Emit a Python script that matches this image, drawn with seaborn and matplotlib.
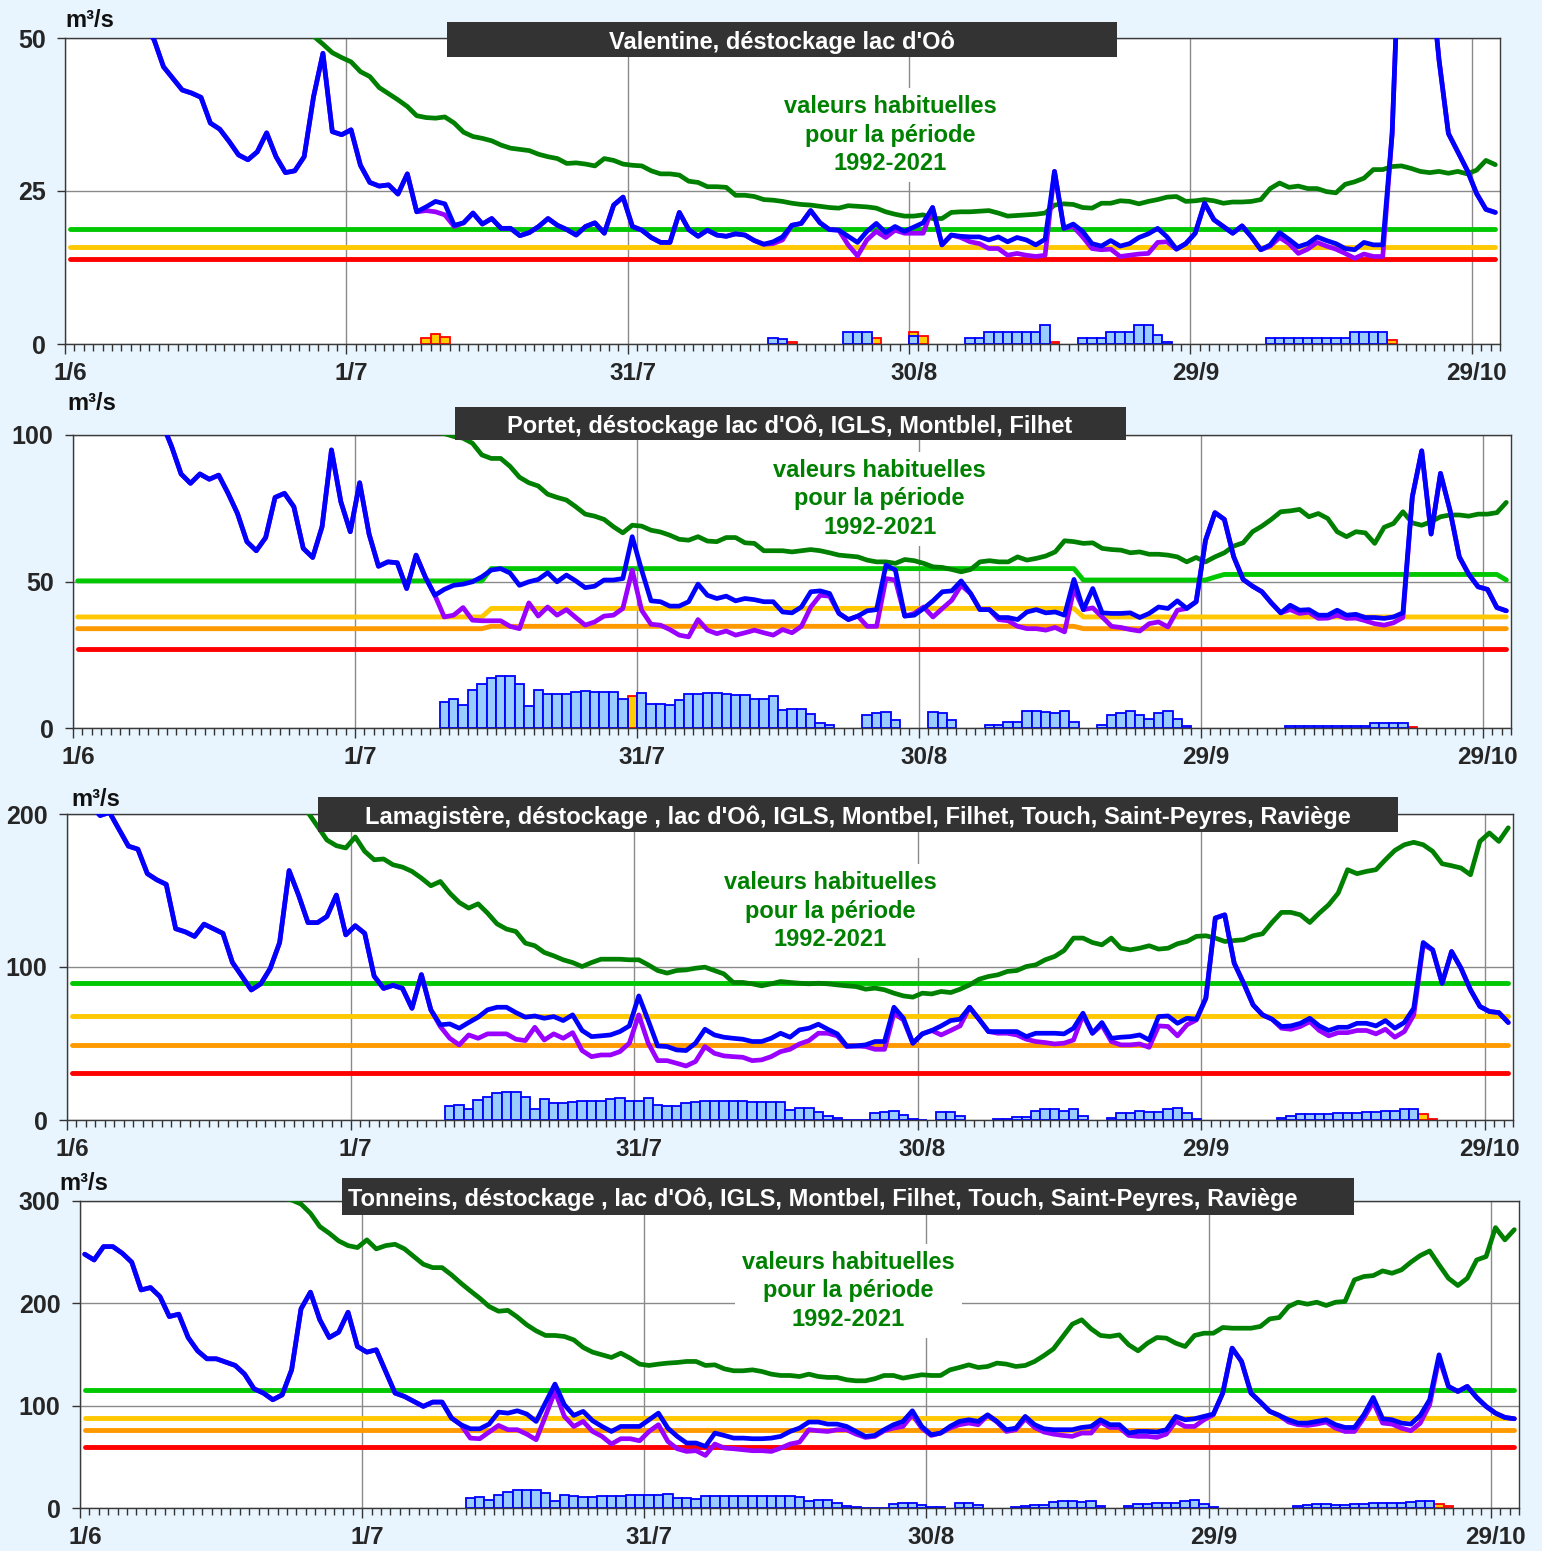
import numpy as np
import matplotlib
matplotlib.use("Agg")
import matplotlib.pyplot as plt
import matplotlib.transforms as mtransforms
import seaborn as sns
from matplotlib.patches import Rectangle
from matplotlib.ticker import FixedLocator, MultipleLocator

# ------------------------------------------------------------------ #
# Data (daily values, 1/6 -> 31/10, index 0 = 1 June)
# ------------------------------------------------------------------ #
tick_days = [0, 30, 60, 90, 120, 150]
tick_labels = ["1/6", "1/7", "31/7", "30/8", "29/9", "29/10"]

# --- Valentine -----------------------------------------------------
p1_blue = [78, 74, 70, 66, 63, 60, 57, 55, 52, 49.7,
           45.3, 43.4, 41.5, 41.0, 40.3, 36.1, 35.1, 33.1, 30.9, 30.1,
           31.4, 34.5, 30.6, 28.0, 28.3, 30.6, 40.4, 47.5, 34.7, 34.2,
           35.0, 29.2, 26.4, 25.8, 26.0, 24.5, 27.8, 21.6, 22.4, 23.3,
           22.9, 19.4, 19.8, 21.4, 19.6, 20.5, 18.9, 18.9, 17.7, 18.2,
           19.2, 20.5, 19.4, 18.7, 17.8, 19.2, 19.8, 18.1, 22.7, 24.0,
           19.2, 18.6, 17.4, 16.6, 16.6, 21.5, 18.7, 17.6, 18.6, 17.8,
           17.6, 18.0, 17.8, 16.9, 16.3, 16.7, 17.5, 19.4, 19.7, 21.8,
           19.8, 18.7, 18.6, 17.6, 16.6, 18.4, 19.7, 18.2, 19.2, 18.4,
           19.1, 19.8, 22.3, 16.2, 17.8, 17.6, 17.5, 17.5, 17.0, 17.5,
           16.7, 17.4, 17.0, 16.2, 17.1, 28.2, 18.9, 19.6, 18.4, 16.4,
           16.0, 16.9, 16.0, 16.4, 17.4, 18.0, 18.9, 17.5, 15.5, 16.4,
           18.1, 23.0, 20.3, 19.2, 18.1, 19.3, 17.5, 15.4, 16.2, 18.2,
           17.1, 15.9, 16.4, 17.5, 16.9, 16.4, 15.6, 15.4, 16.6, 16.2,
           16.2, 34.4, 75, 90, 82, 62, 46.4, 34.4, 31.4, 28.4,
           24.6, 22.0, 21.5]
p1_purple = [78, 74, 70, 66, 63, 60, 57, 55, 52, 49.7,
             45.3, 43.4, 41.5, 41.0, 40.3, 36.1, 35.1, 33.1, 30.9, 30.1,
             31.4, 34.5, 30.6, 28.0, 28.3, 30.6, 40.4, 47.5, 34.7, 34.2,
             35.0, 29.2, 26.4, 25.8, 26.0, 24.5, 27.8, 21.6, 21.8, 21.6,
             21.1, 19.2, 19.8, 21.4, 19.6, 20.5, 18.9, 18.9, 17.7, 18.2,
             19.2, 20.5, 19.4, 18.7, 17.8, 19.2, 19.8, 18.1, 22.7, 24.0,
             19.2, 18.6, 17.4, 16.6, 16.6, 21.5, 18.7, 17.6, 18.6, 17.8,
             17.6, 18.0, 17.8, 16.9, 16.3, 16.4, 17.0, 19.4, 19.7, 21.8,
             19.8, 18.7, 18.6, 16.2, 14.4, 17.0, 18.4, 17.4, 18.6, 18.1,
             18.1, 18.1, 22.3, 16.2, 17.8, 17.4, 16.7, 16.4, 15.6, 15.6,
             14.5, 14.8, 14.5, 14.3, 14.5, 28.2, 18.9, 19.2, 17.5, 15.6,
             15.4, 15.5, 14.3, 14.5, 14.7, 14.8, 16.6, 16.7, 15.5, 16.4,
             18.1, 23.0, 20.3, 19.2, 18.1, 19.3, 17.5, 15.4, 16.0, 17.4,
             16.4, 14.8, 15.5, 16.6, 16.0, 15.5, 14.8, 14.0, 14.7, 14.3,
             14.3, 34.4, 75, 90, 82, 62, 46.4, 34.4, 31.4, 28.4,
             24.6, 22.0, 21.5]
p1_usual = [66, 65, 64, 63, 62, 61, 60, 59, 58.5, 58,
            57.5, 57, 56.5, 56, 55.5, 55, 54.5, 54, 53.5, 53,
            52.7, 52.3, 52, 51.6, 51.2, 50.8, 50.3, 49.0, 47.6, 46.8,
            46.1, 44.5, 43.7, 41.9, 40.9, 39.9, 38.8, 37.3, 37.0, 36.9,
            37.1, 36.1, 34.6, 33.9, 33.6, 33.2, 32.5, 32.0, 31.8, 31.6,
            31.0, 30.6, 30.3, 29.5, 29.6, 29.4, 29.1, 30.3, 30.0, 29.4,
            29.2, 29.1, 28.3, 27.8, 27.8, 27.6, 26.6, 26.4, 25.7, 25.7,
            25.6, 24.3, 24.3, 24.1, 23.6, 23.5, 23.3, 23.0, 22.8, 22.7,
            22.5, 22.3, 22.2, 22.6, 22.5, 22.4, 22.2, 21.6, 21.2, 20.9,
            20.9, 21.1, 20.5, 20.5, 21.5, 21.6, 21.6, 21.7, 21.8, 21.4,
            20.9, 21.0, 21.1, 21.2, 21.4, 22.7, 22.9, 22.8, 22.3, 22.2,
            23.0, 23.0, 23.4, 23.3, 22.9, 23.3, 23.6, 24.0, 24.1, 23.3,
            23.4, 23.6, 23.4, 23.0, 23.2, 23.2, 23.3, 23.6, 25.4, 26.3,
            25.6, 25.8, 25.4, 25.4, 24.9, 24.7, 26.1, 26.5, 27.1, 28.5,
            28.5, 29.0, 29.1, 28.7, 28.2, 28.0, 28.2, 27.9, 28.2, 27.8,
            28.4, 30.0, 29.3]
p1_green_steps = [(18.8, 153)]
p1_yellow_steps = [(15.9, 153)]
p1_orange_steps = []
p1_red_steps = [(13.9, 153)]
p1_bar_start = 75
p1_bar_blue = [0.9, 0.8, 0, 0, 0, 0, 0, 0, 2.0, 2.0,
               2.0, 0, 0, 0, 0, 1.3, 0, 0, 0, 0,
               0, 0.9, 0.9, 2.0, 2.0, 2.0, 2.0, 2.0, 2.0, 3.1,
               0, 0, 0, 0.9, 0.9, 0.9, 2.0, 2.0, 2.0, 3.1,
               3.1, 1.5, 0.4, 0, 0, 0, 0, 0, 0, 0,
               0, 0, 0, 0.9, 0.9, 0.9, 0.9, 0.9, 0.9, 0.9,
               0.9, 0.9, 2.0, 2.0, 2.0, 2.0]
p1_bar_yel_days = [38, 39, 40, 77, 86, 90, 91, 105, 141]
p1_bar_yel = [0.9, 1.7, 1.1, 0.4, 0.9, 1.9, 1.3, 0.4, 0.7]

# --- Portet --------------------------------------------------------
p2_blue = [150, 145, 140, 135, 130, 125, 120, 115, 110, 104,
           96, 86.7, 83.5, 86.7, 84.9, 86.3, 80.1, 73.2, 63.6, 60.5,
           65.0, 78.7, 80.1, 75.5, 61.3, 58.2, 68.7, 94.9, 77.2, 67.0,
           83.7, 66.2, 55.2, 56.7, 56.4, 47.6, 59.0, 51.4, 45.3, 47.3,
           48.7, 49.1, 49.9, 51.6, 53.9, 54.4, 52.9, 48.7, 49.9, 50.7,
           53.0, 49.9, 52.2, 50.2, 47.9, 48.4, 50.5, 50.5, 51.0, 65.3,
           53.9, 43.4, 43.1, 41.6, 41.6, 43.1, 49.1, 45.3, 44.2, 45.0,
           43.4, 44.2, 43.8, 43.1, 43.1, 39.6, 39.3, 41.3, 46.5, 46.8,
           45.9, 39.1, 37.0, 38.2, 40.0, 40.4, 55.6, 53.9, 38.2, 38.5,
           40.8, 43.4, 46.5, 46.8, 50.2, 45.9, 40.4, 40.4, 37.7, 37.7,
           37.0, 39.6, 40.4, 39.3, 39.6, 38.5, 50.7, 40.4, 47.6, 39.3,
           39.1, 39.1, 39.3, 37.7, 39.1, 41.3, 40.8, 43.4, 40.8, 43.1,
           64.1, 73.5, 71.2, 58.4, 50.7, 48.4, 46.5, 42.7, 39.3, 41.9,
           40.2, 40.4, 38.5, 38.5, 40.2, 38.5, 38.8, 37.7, 37.7, 37.4,
           37.9, 39.3, 78.9, 94.6, 66.2, 86.9, 74.4, 58.4, 52.5, 48.2,
           47.3, 41.1, 40.0]
p2_purple = [150, 145, 140, 135, 130, 125, 120, 115, 110, 104,
             96, 86.7, 83.5, 86.7, 84.9, 86.3, 80.1, 73.2, 63.6, 60.5,
             65.0, 78.7, 80.1, 75.5, 61.3, 58.2, 68.7, 94.9, 77.2, 67.0,
             83.7, 66.2, 55.2, 56.7, 56.4, 47.6, 59.0, 51.4, 45.3, 37.9,
             38.5, 41.1, 36.8, 36.6, 36.6, 36.6, 34.7, 33.9, 42.7, 38.2,
             41.3, 38.5, 40.4, 37.7, 35.1, 36.2, 38.2, 38.5, 40.8, 53.9,
             40.2, 35.4, 35.1, 33.6, 31.7, 31.1, 37.0, 33.4, 32.2, 33.1,
             31.7, 32.5, 33.4, 32.5, 31.7, 33.6, 32.5, 34.7, 41.3, 45.3,
             45.0, 39.1, 37.0, 38.2, 34.7, 34.7, 51.0, 50.5, 38.2, 39.1,
             41.3, 37.9, 40.8, 43.6, 48.7, 45.9, 40.4, 40.4, 37.0, 36.6,
             34.7, 33.9, 33.9, 33.4, 34.3, 32.8, 47.6, 40.4, 41.0, 37.9,
             34.7, 34.3, 33.6, 33.1, 35.6, 36.2, 34.5, 40.2, 40.8, 43.1,
             64.1, 73.5, 71.2, 58.4, 50.7, 48.4, 46.5, 42.7, 39.3, 40.4,
             39.1, 39.5, 37.4, 37.5, 38.5, 37.4, 37.5, 36.6, 35.6, 35.1,
             35.9, 37.7, 78.9, 94.6, 66.2, 86.9, 74.4, 58.4, 52.5, 48.2,
             47.3, 41.1, 40.0]
p2_usual = [138, 136, 135, 134, 132, 131, 130, 128, 127, 126,
            125, 124, 122, 121, 120, 119, 118, 117, 116, 115,
            114, 113, 112, 112, 111, 110, 109, 108, 107, 107,
            106, 105, 104, 104, 103, 103, 102, 102, 101, 100.5,
            99.5, 98.9, 97.2, 93.2, 92.0, 92.0, 89.3, 85.6, 83.7, 82.6,
            79.8, 78.7, 77.8, 75.5, 73.0, 72.3, 71.2, 68.7, 66.6, 69.2,
            68.9, 67.5, 66.9, 65.8, 64.4, 64.1, 65.3, 63.8, 63.6, 65.0,
            65.0, 63.2, 63.0, 60.5, 60.5, 60.5, 60.1, 60.5, 60.9, 60.5,
            59.8, 59.0, 58.7, 58.4, 57.3, 56.7, 56.7, 56.2, 57.5, 57.1,
            56.2, 55.0, 54.8, 54.1, 53.3, 54.1, 56.7, 57.1, 56.7, 56.7,
            58.4, 57.3, 57.9, 58.7, 60.1, 63.9, 63.6, 63.0, 63.2, 61.3,
            60.9, 60.7, 59.8, 60.1, 59.3, 59.3, 59.0, 58.4, 56.7, 58.2,
            56.7, 58.4, 59.8, 62.1, 63.2, 67.0, 68.9, 71.2, 73.8, 74.1,
            74.6, 72.1, 73.2, 71.5, 67.0, 65.3, 67.0, 66.6, 63.0, 68.5,
            69.8, 73.8, 70.0, 69.2, 70.4, 72.1, 72.7, 72.7, 72.3, 73.0,
            73.0, 73.5, 77.0]
p2_green_steps = [(50.2, 44), (54.4, 63), (50.5, 14), (51.5, 1), (52.4, 30), (50.5, 1)]
p2_yellow_steps = [(37.9, 44), (40.8, 63), (37.9, 46)]
p2_orange_steps = [(33.9, 44), (34.7, 63), (33.9, 46)]
p2_red_steps = [(26.9, 153)]
p2_bar_start = 39
p2_bar_blue = [8.9, 9.8, 7.7, 12.9, 14.9, 17.1, 17.9, 17.9, 14.9, 7.4,
               13.1, 11.5, 11.5, 11.7, 12.3, 12.5, 12.3, 12.3, 12.3, 10.0,
               0, 12.0, 8.1, 8.1, 7.7, 9.7, 11.7, 11.7, 12.0, 12.0,
               11.7, 11.4, 11.4, 10.0, 10.0, 10.8, 6.0, 6.6, 6.6, 4.9,
               1.7, 0.9, 0, 0, 0, 4.6, 5.2, 5.5, 2.6, 0,
               0, 0, 5.5, 5.2, 2.6, 0, 0, 0, 0.9, 0.9,
               2.0, 2.0, 5.8, 5.8, 5.5, 5.1, 5.8, 2.0, 0, 0,
               0.9, 4.6, 5.1, 5.8, 4.6, 3.2, 5.1, 5.8, 3.2, 0.7,
               0, 0, 0, 0, 0, 0, 0, 0, 0, 0,
               0.7, 0.7, 0.7, 0.7, 0.7, 0.7, 0.7, 0.7, 0.7, 1.8,
               1.8, 1.8, 1.8]
p2_bar_yel_days = [59, 142]
p2_bar_yel = [10.8, 0.4]

# --- Lamagistère ---------------------------------------------------
p3_blue = [225, 215, 206, 199, 201, 190, 179, 177, 161, 157,
           154, 125, 123, 120, 128, 125, 122, 103, 94, 85,
           89, 99, 116, 163, 147, 129, 129, 133, 147, 121,
           127, 122, 94, 86, 88, 86, 73, 95, 72, 62.2,
           62.8, 60.0, 63.7, 67.2, 72.0, 73.7, 73.7, 70.2, 67.2, 68.0,
           66.5, 67.6, 65.0, 68.7, 58.5, 54.5, 55.0, 55.6, 57.8, 61.5,
           81.1, 65.0, 48.4, 48.0, 45.8, 45.4, 50.2, 59.3, 55.6, 54.1,
           53.4, 52.8, 51.3, 51.3, 53.4, 56.7, 54.1, 58.9, 60.0, 62.6,
           59.3, 56.3, 48.4, 48.4, 49.1, 51.3, 51.3, 73.7, 66.5, 50.2,
           56.3, 58.5, 61.5, 65.0, 65.9, 73.7, 65.9, 57.8, 57.8, 57.8,
           57.8, 54.5, 56.7, 56.7, 56.7, 56.3, 60.0, 69.8, 56.7, 63.7,
           53.4, 54.1, 54.5, 55.6, 52.3, 67.6, 68.0, 63.2, 66.5, 65.9,
           79.6, 132.0, 134.1, 102.5, 89.4, 75.2, 68.7, 65.9, 61.1, 61.5,
           63.2, 66.5, 61.5, 58.5, 60.6, 60.6, 63.2, 63.2, 61.5, 65.0,
           60.0, 63.7, 73.1, 116.0, 111.2, 89.4, 110.1, 99.2, 85.1, 74.2,
           70.9, 70.2, 63.7]
p3_purple = [225, 215, 206, 199, 201, 190, 179, 177, 161, 157,
             154, 125, 123, 120, 128, 125, 122, 103, 94, 85,
             89, 99, 116, 163, 147, 129, 129, 133, 147, 121,
             127, 122, 94, 86, 88, 86, 73, 95, 72, 61.1,
             53.4, 49.1, 55.6, 53.4, 56.3, 56.3, 56.3, 52.8, 51.9, 60.6,
             52.3, 56.3, 53.4, 57.1, 45.4, 41.4, 42.5, 42.5, 44.7, 50.2,
             68.7, 50.2, 38.8, 38.8, 37.1, 35.3, 38.2, 48.0, 43.6, 41.9,
             41.4, 41.0, 38.8, 39.3, 41.4, 44.7, 46.2, 49.7, 51.9, 56.7,
             56.7, 55.0, 48.0, 48.4, 48.0, 46.2, 46.2, 69.8, 65.4, 50.2,
             56.3, 58.5, 55.6, 58.5, 61.5, 73.7, 65.9, 57.8, 56.7, 56.7,
             55.6, 52.8, 51.3, 50.6, 49.7, 50.2, 52.3, 68.7, 56.7, 62.0,
             51.3, 49.1, 49.1, 49.7, 47.5, 61.5, 61.1, 55.0, 62.2, 65.4,
             79.6, 132.0, 134.1, 102.5, 89.4, 75.2, 68.7, 65.9, 60.0, 59.3,
             61.1, 64.3, 58.5, 55.0, 57.1, 57.1, 58.5, 58.5, 56.3, 59.3,
             54.1, 57.8, 68.7, 114.5, 111.2, 89.4, 110.1, 99.2, 85.1, 74.2,
             70.9, 70.2, 63.7]
p3_usual = [275, 272, 270, 268, 265, 262, 260, 257, 255, 252,
            250, 247, 244, 241, 238, 235, 232, 229, 226, 223,
            219, 216, 213, 209, 205, 201, 192, 183, 179.3, 177.8,
            185.0, 175.6, 170.1, 170.6, 166.8, 165.3, 162.5, 158.1, 153.1, 155.9,
            148.3, 142.2, 138.5, 141.3, 135.2, 128.2, 124.8, 123.2, 115.6, 113.9,
            109.5, 107.3, 104.7, 102.9, 100.3, 102.9, 105.1, 105.1, 105.1, 104.7,
            104.7, 101.4, 97.7, 96.0, 97.7, 98.1, 99.2, 99.9, 97.7, 95.5,
            89.9, 89.9, 89.0, 87.7, 89.0, 90.5, 89.9, 89.4, 89.0, 89.4,
            89.0, 88.3, 87.7, 87.2, 85.5, 86.2, 85.1, 82.9, 81.1, 80.3,
            82.9, 82.4, 84.0, 83.3, 85.5, 88.3, 92.0, 93.8, 94.9, 97.1,
            97.7, 100.3, 101.4, 104.7, 106.9, 110.8, 118.9, 118.9, 116.0, 114.5,
            118.9, 112.3, 111.2, 112.3, 113.9, 111.7, 112.3, 115.2, 116.7, 120.0,
            120.4, 118.9, 116.7, 117.3, 117.8, 120.4, 121.7, 129.1, 135.7, 135.7,
            134.1, 129.1, 135.2, 140.7, 148.3, 163.6, 161.0, 162.5, 163.6, 170.1,
            176.2, 179.9, 181.5, 179.9, 175.6, 167.5, 166.2, 164.7, 160.3, 182.1,
            187.6, 182.1, 191.0]
p3_green_steps = [(89.4, 153)]
p3_yellow_steps = [(68.0, 153)]
p3_orange_steps = [(49.1, 153)]
p3_red_steps = [(31.0, 153)]
p3_bar_start = 40
p3_bar_blue = [9.2, 9.8, 7.0, 13.1, 14.8, 17.4, 18.1, 18.1, 15.3, 7.0,
               13.5, 11.3, 11.3, 12.0, 12.6, 12.6, 12.6, 13.5, 14.2, 12.6,
               12.6, 14.2, 9.8, 9.2, 9.2, 11.3, 12.0, 12.3, 12.3, 12.3,
               12.3, 12.3, 12.0, 11.5, 11.5, 12.0, 6.5, 7.6, 7.6, 5.5,
               2.6, 1.1, 0.3, 0.2, 0.2, 4.8, 5.5, 6.1, 3.3, 0.4,
               0.3, 0, 5.5, 5.5, 2.6, 0, 0, 0, 0.7, 0.7,
               2.2, 2.2, 6.1, 7.0, 7.0, 6.1, 7.0, 2.6, 0, 0,
               1.1, 4.8, 4.8, 6.1, 5.5, 5.5, 7.0, 7.6, 4.4, 0.4,
               0, 0, 0, 0, 0, 0, 0, 0, 1.1, 2.6,
               3.7, 3.7, 3.7, 3.7, 4.4, 4.8, 4.8, 5.5, 5.5, 6.1,
               6.1, 7.0, 7.0]
p3_bar_yel_days = [143, 144]
p3_bar_yel = [3.7, 0.4]

# --- Tonneins ------------------------------------------------------
p4_blue = [248.0, 242.4, 255.4, 255.4, 248.9, 240.2, 213.1, 215.4, 206.6, 187.1,
           189.4, 166.6, 153.6, 145.8, 145.8, 142.5, 139.3, 130.8, 116.5, 112.3,
           105.8, 110.6, 135.0, 194.6, 210.9, 183.9, 166.6, 171.8, 191.3, 157.8,
           152.3, 154.6, 133.4, 112.3, 109.0, 104.1, 99.3, 103.5, 103.5, 87.9,
           81.4, 77.4, 77.4, 82.0, 93.7, 92.7, 95.0, 91.8, 84.6, 103.0,
           121.1, 100.9, 90.5, 94.4, 85.3, 79.7, 74.8, 79.7, 79.7, 79.7,
           86.2, 92.7, 78.1, 70.0, 63.5, 63.5, 60.2, 73.2, 70.9, 68.3,
           68.3, 67.7, 67.7, 68.3, 70.0, 74.8, 78.1, 84.0, 84.0, 82.0,
           82.0, 79.7, 74.8, 70.0, 70.9, 76.5, 81.4, 84.6, 95.0, 79.7,
           71.6, 73.2, 79.7, 84.6, 86.2, 84.6, 91.1, 84.6, 76.5, 78.0,
           89.5, 81.4, 77.4, 76.5, 76.5, 76.5, 78.7, 79.7, 86.2, 81.4,
           81.4, 73.2, 74.8, 74.8, 74.2, 76.5, 89.5, 86.2, 87.2, 89.5,
           91.8, 112.3, 156.2, 143.2, 112.3, 103.5, 94.4, 90.5, 86.2, 83.0,
           83.0, 84.6, 86.2, 81.4, 78.7, 78.7, 91.1, 108.0, 87.2, 86.2,
           83.0, 82.0, 90.5, 105.8, 149.7, 118.8, 113.9, 118.8, 108.0, 99.3,
           92.7, 88.5, 87.2]
p4_purple = [248.0, 242.4, 255.4, 255.4, 248.9, 240.2, 213.1, 215.4, 206.6, 187.1,
             189.4, 166.6, 153.6, 145.8, 145.8, 142.5, 139.3, 130.8, 116.5, 112.3,
             105.8, 110.6, 135.0, 194.6, 210.9, 183.9, 166.6, 171.8, 191.3, 157.8,
             152.3, 154.6, 133.4, 112.3, 109.0, 104.1, 99.3, 103.5, 103.5, 87.9,
             81.4, 68.3, 67.7, 74.2, 80.7, 76.5, 76.5, 72.2, 66.7, 90.0,
             113.9, 89.5, 79.7, 84.6, 74.8, 70.0, 62.5, 67.7, 67.7, 65.7,
             74.8, 81.4, 65.1, 57.9, 55.3, 56.0, 51.4, 62.5, 58.6, 57.9,
             56.9, 56.0, 56.0, 55.3, 58.6, 62.5, 64.4, 76.5, 75.5, 74.8,
             76.5, 76.5, 72.2, 69.0, 70.0, 75.5, 78.1, 79.7, 91.1, 78.1,
             70.9, 73.2, 78.1, 81.4, 83.0, 81.4, 90.5, 84.0, 74.8, 76.5,
             87.2, 78.7, 74.2, 72.2, 70.9, 70.0, 73.2, 73.2, 84.0, 78.7,
             78.7, 70.9, 70.0, 70.0, 69.0, 72.2, 84.6, 79.7, 79.7, 86.2,
             91.1, 112.3, 156.2, 143.2, 112.3, 103.5, 94.4, 90.5, 84.0, 81.4,
             80.7, 82.0, 84.0, 78.1, 74.8, 74.8, 87.9, 103.5, 83.0, 82.0,
             78.1, 75.5, 83.0, 100.9, 146.4, 118.8, 113.9, 118.8, 108.0, 99.3,
             92.7, 88.5, 87.2]
p4_usual = [345, 343, 341, 339, 337, 335, 333, 331, 329, 327,
            325, 323, 321, 319, 317, 315, 313, 311, 309, 307,
            305, 303, 301, 297, 288.0, 275.0, 268.5, 261.0, 256.4, 254.5,
            262.0, 253.2, 256.4, 257.7, 253.2, 245.7, 238.2, 234.9, 234.9, 227.8,
            219.7, 212.2, 205.0, 196.9, 192.3, 193.1, 186.6, 179.0, 173.1, 168.6,
            168.6, 167.6, 164.3, 156.9, 152.3, 149.7, 147.1, 151.3, 146.4, 140.6,
            139.3, 140.6, 141.6, 142.2, 143.2, 143.2, 139.3, 139.9, 136.0, 134.1,
            134.1, 135.0, 133.4, 130.8, 129.5, 129.5, 128.5, 130.8, 128.5, 127.6,
            127.6, 125.3, 124.3, 124.3, 126.3, 129.5, 129.5, 126.9, 128.5, 130.2,
            129.5, 129.5, 135.0, 137.3, 139.9, 137.3, 138.3, 141.6, 140.6, 138.3,
            139.3, 143.2, 149.0, 155.5, 167.6, 179.6, 183.9, 175.1, 168.6, 167.6,
            169.2, 159.5, 153.6, 161.1, 166.6, 166.0, 161.1, 157.8, 168.6, 170.8,
            170.8, 176.4, 175.7, 175.7, 175.7, 177.4, 184.8, 186.1, 196.9, 201.1,
            199.2, 201.1, 197.9, 201.1, 201.8, 222.9, 226.2, 227.1, 231.7, 229.4,
            232.7, 240.2, 246.7, 251.2, 237.6, 224.5, 217.4, 224.5, 242.4, 245.7,
            274.0, 262.0, 272.0]
p4_green_steps = [(115.2, 153)]
p4_yellow_steps = [(87.9, 153)]
p4_orange_steps = [(76.5, 153)]
p4_red_steps = [(59.9, 153)]
p4_bar_start = 41
p4_bar_blue = [9.8, 10.4, 7.5, 13.0, 15.5, 17.5, 17.9, 17.9, 14.6, 6.5,
               13.0, 11.4, 10.4, 10.4, 11.4, 11.4, 11.4, 12.4, 13.0, 12.4,
               13.0, 13.7, 9.8, 9.8, 8.8, 11.4, 11.4, 11.4, 11.4, 11.4,
               11.4, 11.4, 11.4, 12.0, 11.4, 11.0, 7.2, 8.1, 8.1, 4.9,
               1.6, 0.7, 0.3, 0.3, 0.3, 3.9, 4.9, 4.9, 3.3, 0.7,
               0.5, 0, 4.9, 4.9, 2.6, 0, 0, 0, 1.0, 1.6,
               2.6, 2.6, 5.9, 6.5, 6.5, 5.9, 6.5, 1.6, 0, 0,
               1.6, 3.9, 3.9, 4.9, 4.9, 4.9, 6.5, 8.1, 3.9, 1.0,
               0, 0, 0, 0, 0, 0, 0, 0, 1.6, 3.3,
               3.9, 3.9, 3.3, 3.3, 3.9, 3.9, 4.9, 4.9, 4.9, 4.9,
               5.9, 7.2, 7.2]
p4_bar_yel_days = [144, 145]
p4_bar_yel = [3.9, 1.6]

# ------------------------------------------------------------------ #
# Layout (pixel geometry of the reference, 1542 x 1551)
# ------------------------------------------------------------------ #
W, H = 1542, 1551
BG = "#E9F5FE"
USUAL_TXT = "valeurs habituelles\npour la période\n1992-2021"

panels = [
    dict(title="Valentine, déstockage lac d'Oô",
         blue=p1_blue, purple=p1_purple, usual=p1_usual,
         steps=[p1_green_steps, p1_yellow_steps, p1_orange_steps, p1_red_steps],
         bar_start=p1_bar_start, bar_blue=p1_bar_blue,
         yel_days=p1_bar_yel_days, yel=p1_bar_yel,
         ymax=50, yticks=[0, 25, 50],
         box=(65, 1500, 38, 344), tbox=(447, 1117, 22, 57), tx=782, tha="center",
         unit=(65, 27), note=(0.575, 0.683)),
    dict(title="Portet, déstockage lac d'Oô, IGLS, Montblel, Filhet",
         blue=p2_blue, purple=p2_purple, usual=p2_usual,
         steps=[p2_green_steps, p2_yellow_steps, p2_orange_steps, p2_red_steps],
         bar_start=p2_bar_start, bar_blue=p2_bar_blue,
         yel_days=p2_bar_yel_days, yel=p2_bar_yel,
         ymax=100, yticks=[0, 50, 100],
         box=(73, 1511, 435, 728), tbox=(455, 1126, 407, 440), tx=790, tha="center",
         unit=(67, 410), note=(0.561, 0.782)),
    dict(title="Lamagistère, déstockage , lac d'Oô, IGLS, Montbel, Filhet, Touch, Saint-Peyres, Raviège",
         blue=p3_blue, purple=p3_purple, usual=p3_usual,
         steps=[p3_green_steps, p3_yellow_steps, p3_orange_steps, p3_red_steps],
         bar_start=p3_bar_start, bar_blue=p3_bar_blue,
         yel_days=p3_bar_yel_days, yel=p3_bar_yel,
         ymax=200, yticks=[0, 100, 200],
         box=(67, 1513, 814, 1120), tbox=(318, 1398, 797, 832), tx=858, tha="center",
         unit=(71, 806), note=(0.528, 0.683)),
    dict(title="Tonneins, déstockage , lac d'Oô, IGLS, Montbel, Filhet, Touch, Saint-Peyres, Raviège",
         blue=p4_blue, purple=p4_purple, usual=p4_usual,
         steps=[p4_green_steps, p4_yellow_steps, p4_orange_steps, p4_red_steps],
         bar_start=p4_bar_start, bar_blue=p4_bar_blue,
         yel_days=p4_bar_yel_days, yel=p4_bar_yel,
         ymax=300, yticks=[0, 100, 200, 300],
         box=(80, 1519, 1201, 1508), tbox=(342, 1354, 1178, 1215), tx=348, tha="left",
         unit=(59, 1190), note=(0.534, 0.707)),
]

STEP_COLORS = ["#00C800", "#FFC800", "#FF9900", "#FF0000"]

sns.set_theme(style="white")
plt.rcParams["font.family"] = ["Liberation Sans", "DejaVu Sans"]
plt.rcParams["font.weight"] = "bold"

fig = plt.figure(figsize=(W / 100, H / 100), dpi=100, facecolor=BG)
label_shift = mtransforms.ScaledTranslation(5 / 100, 0, fig.dpi_scale_trans)


def fx(px):
    return px / W


def fy(py):
    return 1 - py / H


def steps_to_series(pairs):
    return np.concatenate([np.full(n, v, dtype=float) for v, n in pairs])


for p in panels:
    l, r, t, b = p["box"]
    ax = fig.add_axes([fx(l), fy(b), fx(r) - fx(l), fy(t) - fy(b)])
    ax.set_facecolor("white")
    n = len(p["blue"])
    days = np.arange(n) + 0.5

    # bars: "alerte" (yellow/red) first, then destocking (light blue)
    yd = np.array(p["yel_days"]) + 0.5
    ax.bar(yd, p["yel"], width=1.0, color="#FFCC00", edgecolor="#FF0000",
           linewidth=1.3, zorder=2)
    bb = np.array(p["bar_blue"], dtype=float)
    bx = np.arange(len(bb)) + p["bar_start"] + 0.5
    keep = bb > 0
    ax.bar(bx[keep], bb[keep], width=1.0, color="#99CCFF", edgecolor="#0000FF",
           linewidth=1.3, zorder=2.1)

    # thresholds
    for pairs, col in zip(p["steps"], STEP_COLORS):
        if not pairs:
            continue
        sns.lineplot(x=days, y=steps_to_series(pairs), ax=ax, color=col,
                     linewidth=3.5, estimator=None, sort=False, legend=False,
                     zorder=3, solid_capstyle="round")

    sns.lineplot(x=days, y=p["usual"], ax=ax, color="#008000", linewidth=3.4,
                 estimator=None, sort=False, legend=False, zorder=4)
    sns.lineplot(x=days, y=p["purple"], ax=ax, color="#9900FF", linewidth=3.4,
                 estimator=None, sort=False, legend=False, zorder=5)
    sns.lineplot(x=days, y=p["blue"], ax=ax, color="#0000FF", linewidth=3.4,
                 estimator=None, sort=False, legend=False, zorder=6)

    ax.set_xlim(0, 153)
    ax.set_ylim(0, p["ymax"])
    ax.set_xlabel("")
    ax.set_ylabel("")

    ax.xaxis.set_major_locator(FixedLocator(tick_days))
    ax.xaxis.set_minor_locator(MultipleLocator(1))
    ax.set_xticks(tick_days)
    ax.set_xticklabels(tick_labels)
    ax.set_yticks(p["yticks"])
    ax.set_yticklabels([str(v) for v in p["yticks"]])

    ax.tick_params(axis="both", which="both", bottom=True, left=True,
                   direction="out", color="#333333", width=1)
    ax.tick_params(axis="x", which="major", length=7, labelsize=17.5, pad=6)
    ax.tick_params(axis="x", which="minor", length=5)
    ax.tick_params(axis="y", which="major", length=6, labelsize=18, pad=8)
    for lab in ax.get_xticklabels():
        lab.set_fontweight("bold")
        lab.set_transform(lab.get_transform() + label_shift)
    for lab in ax.get_yticklabels():
        lab.set_fontweight("bold")

    ax.set_axisbelow(True)
    ax.grid(True, which="major", axis="both", color="#8A8A8A", linewidth=1.0)
    for sp in ax.spines.values():
        sp.set_color("#3A3A3A")
        sp.set_linewidth(1.0)

    ax.text(p["note"][0], p["note"][1], USUAL_TXT, transform=ax.transAxes,
            ha="center", va="center", color="#008000", fontsize=17,
            fontweight="bold", linespacing=1.3, zorder=3.5,
            bbox=dict(facecolor="white", edgecolor="none", pad=5))

    # unit label above the y axis
    fig.text(fx(p["unit"][0]), fy(p["unit"][1]), "m³/s", ha="left",
             va="baseline", fontsize=17, fontweight="bold", color="#111111")

    # dark title banner
    x0, x1, y0, y1 = p["tbox"]
    fig.add_artist(Rectangle((fx(x0), fy(y1)), fx(x1) - fx(x0), fy(y0) - fy(y1),
                             transform=fig.transFigure, facecolor="#333333",
                             edgecolor="none", zorder=10))
    fig.text(fx(p["tx"]), fy((y0 + y1) / 2), p["title"], ha=p["tha"],
             va="center_baseline", color="white", fontsize=17,
             fontweight="bold", zorder=11)

fig.savefig("out.png", dpi=100, facecolor=BG)
